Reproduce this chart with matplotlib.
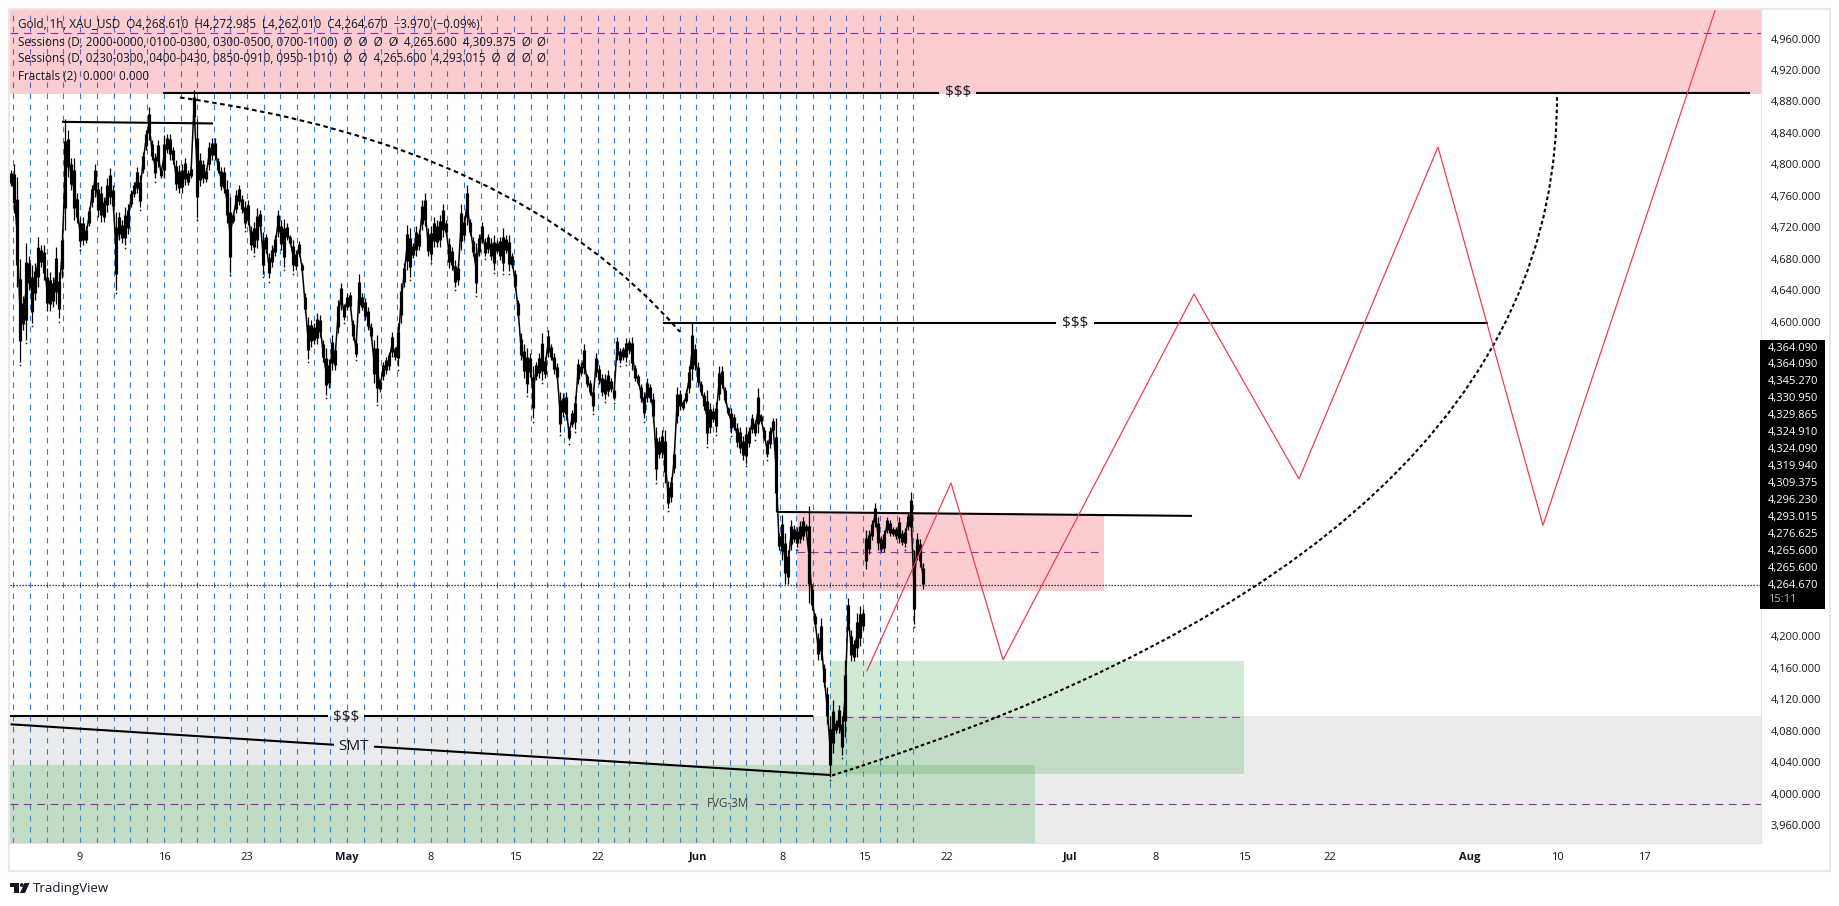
import numpy as np
import matplotlib
matplotlib.use('Agg')
import matplotlib.pyplot as plt
from matplotlib.patches import Rectangle, Polygon, Circle, PathPatch
from matplotlib.path import Path
from matplotlib.transforms import Affine2D

plt.rcParams['font.family'] = ['Open Sans', 'DejaVu Sans']

W, H = 1840, 906
FIRST_BAR = 11
BAR_STEP = 3
TEXT = '#131722'

# hourly range, grouped in columns of about four bars
bar_high = [
    4793, 4800, 4784, 4680, 4632, 4700, 4683, 4672, 4674, 4708, 4697, 4697, 4668, 4663, 4657, 4695,
    4663, 4716, 4858, 4844, 4808, 4808, 4763, 4733, 4733, 4721, 4746, 4774, 4801, 4778, 4772, 4759,
    4782, 4795, 4774, 4740, 4740, 4729, 4746, 4750, 4767, 4778, 4797, 4786, 4816, 4844, 4873, 4831,
    4814, 4831, 4795, 4837, 4839, 4839, 4822, 4806, 4799, 4801, 4808, 4793, 4797, 4894, 4858, 4814,
    4806, 4795, 4829, 4833, 4833, 4808, 4797, 4797, 4780, 4759, 4738, 4767, 4774,
    4761, 4753, 4755, 4721, 4727, 4744, 4742, 4714, 4712, 4687, 4697, 4710, 4742, 4729, 4731, 4725,
    4710, 4704, 4691, 4702, 4674, 4636, 4606, 4602, 4598, 4611, 4608, 4577, 4566, 4553, 4583, 4570,
    4628, 4649, 4623, 4636, 4638, 4602, 4577, 4661, 4636, 4630, 4619, 4598, 4577, 4583, 4526, 4549,
    4555, 4562, 4587, 4568, 4598, 4649, 4674, 4723, 4719, 4700, 4721, 4717, 4755, 4763, 4719, 4721,
    4733, 4729, 4736, 4750, 4729, 4706, 4695, 4678, 4674, 4750, 4733, 4774, 4731,
    4708, 4700, 4712, 4727, 4706, 4712, 4706, 4710, 4704, 4708, 4719, 4710, 4710, 4687, 4666, 4628,
    4585, 4572, 4566, 4560, 4543, 4549, 4560, 4585, 4555, 4589, 4572, 4560, 4547, 4511, 4509, 4511,
    4466, 4488, 4505, 4553, 4547, 4572, 4534, 4526, 4517, 4560, 4545, 4534, 4534, 4539, 4528, 4517,
    4581, 4566, 4568, 4579, 4577, 4581, 4545, 4534, 4521, 4511, 4528, 4521, 4509, 4466, 4453, 4462,
    4462, 4397, 4402, 4437, 4517, 4513, 4500, 4513, 4543, 4598, 4572, 4549,
    4524, 4511, 4513, 4496, 4490, 4498, 4543, 4543, 4517, 4492, 4490, 4483, 4471, 4466, 4454, 4466,
    4466, 4483, 4475, 4515, 4483, 4466, 4449, 4466, 4477, 4477,
    4331, 4354, 4331, 4310, 4348, 4341, 4339, 4346, 4352, 4343, 4365, 4267, 4229, 4204, 4223, 4165,
    4136, 4098, 4119, 4093, 4113, 4098, 4170, 4248, 4208, 4195, 4229, 4238, 4235, 4335, 4335, 4348,
    4369, 4352, 4327, 4335, 4352, 4348, 4339, 4339, 4352, 4335, 4337, 4358, 4384, 4310, 4331, 4324,
    4293,
]
bar_low = [
    4772, 4738, 4644, 4549, 4589, 4577, 4640, 4598, 4627, 4644, 4670, 4653, 4613, 4613, 4619, 4623,
    4604, 4655, 4716, 4784, 4767, 4729, 4725, 4695, 4697, 4700, 4721, 4746, 4759, 4733, 4727, 4727,
    4740, 4750, 4740, 4640, 4704, 4700, 4697, 4712, 4746, 4759, 4763, 4746, 4789, 4818, 4831, 4806,
    4782, 4797, 4782, 4782, 4814, 4806, 4801, 4767, 4763, 4763, 4774, 4774, 4782, 4852, 4733, 4772,
    4776, 4778, 4793, 4806, 4806, 4789, 4767, 4763, 4725, 4663, 4725, 4738, 4748,
    4738, 4719, 4723, 4691, 4687, 4693, 4717, 4661, 4687, 4655, 4670, 4683, 4708, 4691, 4670, 4704,
    4697, 4664, 4666, 4683, 4664, 4611, 4553, 4568, 4572, 4572, 4581, 4549, 4507, 4515, 4539, 4539,
    4585, 4615, 4602, 4615, 4615, 4577, 4555, 4611, 4615, 4602, 4589, 4577, 4522, 4498, 4511, 4526,
    4534, 4539, 4555, 4551, 4543, 4598, 4644, 4666, 4657, 4681, 4683, 4691, 4717, 4721, 4683, 4678,
    4695, 4695, 4695, 4708, 4710, 4668, 4666, 4644, 4647, 4691, 4704, 4723, 4710,
    4683, 4636, 4683, 4700, 4683, 4687, 4678, 4666, 4687, 4678, 4664, 4687, 4664, 4668, 4640, 4604,
    4551, 4528, 4509, 4530, 4477, 4526, 4528, 4526, 4528, 4555, 4551, 4534, 4526, 4460, 4479, 4475,
    4449, 4466, 4464, 4521, 4532, 4534, 4517, 4507, 4486, 4530, 4521, 4505, 4502, 4505, 4511, 4500,
    4551, 4547, 4551, 4549, 4560, 4539, 4524, 4519, 4498, 4477, 4498, 4498, 4473, 4399, 4427, 4427,
    4395, 4363, 4371, 4408, 4471, 4488, 4488, 4496, 4509, 4526, 4538, 4517,
    4507, 4488, 4445, 4458, 4473, 4460, 4500, 4515, 4496, 4481, 4458, 4462, 4441, 4433, 4424, 4420,
    4441, 4458, 4454, 4458, 4471, 4449, 4428, 4439, 4458, 4358,
    4310, 4297, 4267, 4267, 4310, 4320, 4314, 4318, 4322, 4331, 4242, 4233, 4212, 4170, 4170, 4136,
    4089, 4021, 4051, 4077, 4077, 4049, 4072, 4208, 4168, 4168, 4174, 4187, 4208, 4286, 4305, 4322,
    4339, 4310, 4307, 4307, 4331, 4327, 4327, 4324, 4318, 4316, 4314, 4335, 4327, 4216, 4297, 4288,
    4260,
]

# columns that open after a weekend gap
gap_columns = [201, 285]

session_x = [
    13, 30, 47, 63, 80, 97, 114, 130, 147, 164, 181, 197, 214, 230, 247, 264, 280, 297, 314, 330,
    347, 364, 381, 397, 414, 431, 447, 464, 481, 497, 514, 531, 547, 564, 581, 598, 614, 629, 646,
    663, 680, 696, 713, 730, 746, 763, 780, 796, 813, 830, 846, 863, 880, 897, 913,
]

# forecast path
path_x = [867, 951, 1003, 1194, 1299, 1438, 1543, 1717]
path_y = [4156, 4395, 4170, 4635, 4400, 4822, 4341, 5003]

# curve tools: start, control, end
arc_x = [180, 517, 680]
arc_y = [4885, 4825, 4587]
curve_x = [832, 1560, 1557]
curve_y = [4023, 4313, 4889]

# zones: left, right, bottom, top
pink_top = (10.5, 1761, 4889.4, 5010)
pink_mid = (797, 1104, 4257.5, 4355.4)
green_box = (830, 1244, 4024.8, 4168.5)
grey_box = (10.5, 1761, 3930, 4098.6)
green_fvg = (10.5, 1035, 3930, 4036.3)

# midlines: left, right, price
mid_lines = [(10.5, 1761, 4967.6), (797, 1099, 4307), (845, 1244, 4097.3),
             (10.5, 702, 3986.7), (755, 1761, 3986.7)]

# liquidity levels, split around their labels
level_segments = [
    ((163, 939), (4891, 4891)), ((976, 1750), (4891, 4891)),
    ((663, 1056), (4598, 4598)), ((1094, 1488), (4598, 4598)),
    ((10.5, 328), (4099, 4099)), ((364, 813), (4099, 4099)),
    ((10.5, 334), (4088, 4062)), ((374, 831), (4059.6, 4023.5)),
    ((62, 213), (4854, 4852)),
    ((778, 1192), (4358, 4353)),
]
level_labels = [('$$$', 958, 4891), ('$$$', 1075, 4598), ('$$$', 346, 4097), ('SMT', 354, 4060)]

last_price = 4264.67
x_ticks = [80, 164, 247, 347, 431, 515, 598, 698, 783, 864, 947, 1070, 1156, 1244, 1330, 1470, 1557, 1644]
x_labels = ['9', '16', '23', 'May', '8', '15', '22', 'Jun', '8', '15', '22', 'Jul', '8', '15', '22', 'Aug', '10', '17']
y_ticks = [4960, 4920, 4880, 4840, 4800, 4760, 4720, 4680, 4640, 4600, 4200, 4160, 4120, 4080, 4040, 4000, 3960]

stack_labels = ['4,364.090', '4,364.090', '4,345.270', '4,330.950', '4,329.865', '4,324.910', '4,324.090',
                '4,319.940', '4,309.375', '4,296.230', '4,293.015', '4,276.625', '4,265.600', '4,265.600',
                '4,264.670']
stack_rows = [348.3, 365, 381.7, 398.7, 415.7, 432.7, 449.7, 466.7, 483.3, 500.7, 517.7, 534.7, 551.7, 568.3, 585.3]

legend_rows = [
    'Gold, 1h, XAU_USD  O4,268.610  H4,272.985  L4,262.010  C4,264.670  \u22123.970 (\u22120.09%)',
    'Sessions (D, 2000-0000, 0100-0300, 0300-0500, 0700-1100)  \u00d8  \u00d8  \u00d8  \u00d8  4,265.600  4,309.375  \u00d8  \u00d8',
    'Sessions (D, 0230-0300, 0400-0430, 0850-0910, 0950-1010)  \u00d8  \u00d8  4,265.600  4,293.015  \u00d8  \u00d8  \u00d8  \u00d8',
    'Fractals (2)  0.000  0.000',
]
legend_y = [24.7, 42, 58.7, 76]

fig = plt.figure(figsize=(W / 100, H / 100), dpi=100, facecolor='white')
ax = fig.add_axes([10.5 / W, 1 - 843 / H, (1761 - 10.5) / W, (843 - 10) / H])
page = Affine2D().scale(1 / W, -1 / H).translate(0, 1) + fig.transFigure

ax.set_xlim(10.5, 1761)
ax.set_ylim(4960 - (843 - 38.5) * 1.2715, 4960 + (38.5 - 10) * 1.2715)

for left, right, bottom, top, colour, alpha in [
    (*grey_box, '#787b86', 0.15),
    (*pink_top, '#f23645', 0.25),
    (*pink_mid, '#f23645', 0.25),
    (*green_box, '#4caf50', 0.25),
    (*green_fvg, '#4caf50', 0.25),
]:
    ax.add_patch(Rectangle((left, bottom), right - left, top - bottom, facecolor=colour, alpha=alpha,
                           edgecolor='none', zorder=2))

ax.vlines(session_x, *ax.get_ylim(), color='#2f7be8', lw=0.8, linestyles=(0, (5, 5)), zorder=1)

for left, right, price in mid_lines:
    ax.plot([left, right], [price, price], color='#9c27b0', lw=0.8, ls=(0, (7, 5)), zorder=3)

ax.axhline(last_price, color='black', lw=0.9, ls=(0, (1, 1.4)), zorder=3)

high = np.array(bar_high, dtype=float)
low = np.array(bar_low, dtype=float)
bar_x = FIRST_BAR + BAR_STEP * np.arange(len(high))
mid = (high + low) / 2
mid_trace = mid.copy()
trace_x = bar_x.astype(float)
mid_trace = np.insert(mid_trace, gap_columns, np.nan)
trace_x = np.insert(trace_x, gap_columns, np.nan)

# thin wicks, heavier core of each column, and a trace that joins the columns
ax.vlines(bar_x, low, high, color='black', lw=0.9, zorder=4)
ax.vlines(bar_x, low + 0.2 * (high - low), high - 0.2 * (high - low), color='black', lw=2.3, zorder=4)
ax.plot(trace_x, mid_trace, color='black', lw=1.1, zorder=4)

# small fractal marks under the swing lows
swing = np.where((low[1:-1] < low[:-2]) & (low[1:-1] < low[2:]))[0] + 1
ax.scatter(bar_x[swing], low[swing] - 4, s=1.6, color='#222222', linewidths=0, zorder=4)

for xs, ys in level_segments:
    ax.plot(xs, ys, color='black', lw=1.5, solid_capstyle='butt', zorder=5)
for label, x, price in level_labels:
    ax.text(x, price, label, ha='center', va='center', fontsize=11, color=TEXT, zorder=6)
ax.text(728, 3986.7, 'FVG-3M', ha='center', va='center', fontsize=8.4, color='#3f4450', zorder=6)

ax.plot(path_x, path_y, color='#f23645', lw=0.85, zorder=6)

curve_codes = [Path.MOVETO, Path.CURVE3, Path.CURVE3]
ax.add_patch(PathPatch(Path(np.column_stack([arc_x, arc_y]), curve_codes), facecolor='none', edgecolor='black',
                       lw=1.5, ls=(0, (2.2, 1.7)), zorder=5))
ax.add_patch(PathPatch(Path(np.column_stack([curve_x, curve_y]), curve_codes), facecolor='none', edgecolor='black',
                       lw=1.5, ls=(0, (1.7, 1.3)), zorder=5))

ax.set_xticks(x_ticks)
ax.set_xticklabels(x_labels)
for tick, label in zip(ax.get_xticklabels(), x_labels):
    if label in ('May', 'Jun', 'Jul', 'Aug'):
        tick.set_fontweight('bold')
ax.set_yticks(y_ticks)
ax.set_yticklabels([f'{v:,.3f}' for v in y_ticks])
ax.yaxis.tick_right()
ax.tick_params(axis='both', length=0, labelsize=8, labelcolor=TEXT)
ax.tick_params(axis='x', pad=6.5)
ax.tick_params(axis='y', pad=7)
for name in ('top', 'left'):
    ax.spines[name].set_visible(False)
for name in ('bottom', 'right'):
    ax.spines[name].set_color('#e0e3eb')
    ax.spines[name].set_linewidth(0.8)

for row, y in zip(legend_rows, legend_y):
    fig.text(18, y, row, transform=page, ha='left', va='center', fontsize=8.4, color=TEXT, zorder=8)

# stacked price labels on the scale
fig.add_artist(Rectangle((1760, 340), 65.5, 268.7, transform=page, facecolor='black', edgecolor='none', zorder=8))
for label, y in zip(stack_labels, stack_rows):
    fig.text(1768, y, label, transform=page, ha='left', va='center', fontsize=8, color='white',
             fontweight='medium', zorder=9)
fig.text(1768, 600, '15:11', transform=page, ha='left', va='center', fontsize=8, color='#b2b5be', zorder=9)

# chart frame
fig.add_artist(Rectangle((9.5, 9), 1820.5, 861.5, transform=page, facecolor='none', edgecolor='#e6e8ee',
                         linewidth=1.5, zorder=7))

# logo and wordmark
fig.add_artist(Polygon([(10, 883), (19.5, 883), (19.5, 893), (14.5, 893), (14.5, 887), (10, 887)],
                       transform=page, facecolor=TEXT, edgecolor='none'))
fig.add_artist(Circle((21.8, 885), 1.9, transform=page, facecolor=TEXT, edgecolor='none'))
fig.add_artist(Polygon([(24.5, 883), (29.5, 883), (25, 893), (20, 893)], transform=page, facecolor=TEXT,
                       edgecolor='none'))
fig.text(33, 888.5, 'TradingView', transform=page, ha='left', va='center', fontsize=9.5, color=TEXT)

fig.savefig('out.png', dpi=100)
